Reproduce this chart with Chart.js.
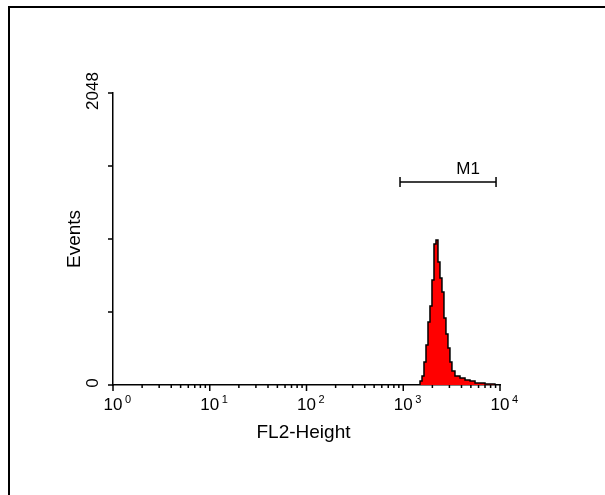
<!DOCTYPE html>
<html>
<head>
<meta charset="utf-8">
<script src="https://cdn.jsdelivr.net/npm/chart.js@4/dist/chart.umd.min.js"></script>
<style>
  html, body { margin: 0; padding: 0; background: #fff; }
  #wrap { position: relative; width: 605px; height: 495px; }
  #frame { position: absolute; left: 8px; top: 6px; right: 0; bottom: 0;
           border-left: 2px solid #000; border-top: 2px solid #000; pointer-events: none; }
</style>
</head>
<body>
<div id="wrap">
  <canvas id="histo" width="605" height="495"></canvas>
  <div id="frame"></div>
</div>
<script>
// Data (FL2-Height channel value -> events)
var fl2 = [1420, 1490, 1563, 1638, 1718, 1802, 1889, 1981, 2078, 2179, 2285, 2396, 2513, 2635,
           2763, 2898, 3039, 3187, 3424, 3860, 4350, 4900, 5520, 6210, 7000, 7890, 8870]
var events = [0, 28, 63, 161, 281, 442, 554, 736, 989, 1017, 863, 750, 652, 470,
              358, 260, 161, 98, 63, 49, 35, 28, 14, 14, 7, 7, 0]

// Axes
var xDecades = [1, 10, 100, 1000, 10000]
var xExponents = ['0', '1', '2', '3', '4']
var yTicks = [0, 512, 1024, 1536, 2048]
var yTickLabels = ['0', '', '', '', '2048']

// Marker
var m1Name = 'M1'
var m1Range = [926, 9100]
var m1Level = 1424

var points = []
for (let i = 0; i < fl2.length; i++) {
    points.push({x: fl2[i], y: events[i]})
}

var font = "'Liberation Sans', Arial, sans-serif"

var flowAxes = {
    id: 'flowAxes',
    afterDraw(chart) {
        var ctx = chart.ctx
        var x = chart.scales.x
        var y = chart.scales.y
        var y0 = y.getPixelForValue(0)
        var x0 = x.getPixelForValue(1)
        ctx.save()
        ctx.strokeStyle = '#000'
        ctx.fillStyle = '#000'
        ctx.lineWidth = 1.5

        // x ticks + labels
        ctx.beginPath()
        for (let d = 0; d < xDecades.length; d++) {
            let px = x.getPixelForValue(xDecades[d])
            ctx.moveTo(px, y0)
            ctx.lineTo(px, y0 + 6)
            if (d < xDecades.length - 1) {
                for (let m = 2; m < 10; m++) {
                    let pm = x.getPixelForValue(xDecades[d] * m)
                    ctx.moveTo(pm, y0)
                    ctx.lineTo(pm, y0 + 3)
                }
            }
        }
        // y ticks
        for (let i = 0; i < yTicks.length; i++) {
            let py = y.getPixelForValue(yTicks[i])
            ctx.moveTo(x0, py)
            ctx.lineTo(x0 - 5, py)
        }
        ctx.stroke()

        ctx.textBaseline = 'alphabetic'
        for (let d = 0; d < xDecades.length; d++) {
            let px = x.getPixelForValue(xDecades[d])
            ctx.font = '17px ' + font
            ctx.textAlign = 'center'
            ctx.fillText('10', px, y0 + 25)
            ctx.font = '11px ' + font
            ctx.textAlign = 'left'
            ctx.fillText(xExponents[d], px + 12, y0 + 18)
        }

        // y tick labels, rotated
        ctx.font = '17px ' + font
        ctx.textAlign = 'center'
        ctx.textBaseline = 'middle'
        for (let i = 0; i < yTicks.length; i++) {
            if (!yTickLabels[i]) continue
            let py = y.getPixelForValue(yTicks[i])
            ctx.save()
            ctx.translate(x0 - 20, py - 2)
            ctx.rotate(-Math.PI / 2)
            ctx.fillText(yTickLabels[i], 0, 0)
            ctx.restore()
        }

        // axis titles
        ctx.font = '19px ' + font
        ctx.textBaseline = 'alphabetic'
        ctx.fillText('FL2-Height', (x.left + x.right) / 2 - 3, y0 + 53)
        ctx.save()
        ctx.translate(x0 - 38, (y.top + y.bottom) / 2)
        ctx.rotate(-Math.PI / 2)
        ctx.textBaseline = 'middle'
        ctx.fillText('Events', 0, 0)
        ctx.restore()

        // M1 marker
        var mx1 = x.getPixelForValue(m1Range[0])
        var mx2 = x.getPixelForValue(m1Range[1])
        var my = y.getPixelForValue(m1Level)
        ctx.beginPath()
        ctx.moveTo(mx1, my)
        ctx.lineTo(mx2, my)
        ctx.moveTo(mx1, my - 5)
        ctx.lineTo(mx1, my + 5)
        ctx.moveTo(mx2, my - 5)
        ctx.lineTo(mx2, my + 5)
        ctx.stroke()
        ctx.font = '17px ' + font
        ctx.textAlign = 'center'
        ctx.fillText(m1Name, mx2 - 28, my - 8)
        ctx.restore()
    }
}

var ctx = document.getElementById('histo').getContext('2d')
var histo = new Chart(ctx, {
    type: 'line',
    data: {
        datasets: [{
            label: 'Events',
            data: points,
            stepped: true,
            fill: 'origin',
            backgroundColor: '#ff0000',
            borderColor: '#000000',
            borderWidth: 1.5,
            pointRadius: 0,
        }],
    },
    options: {
        responsive: false,
        animation: false,
        devicePixelRatio: 1,
        layout: {padding: {left: 113, right: 105, top: 93, bottom: 110}},
        plugins: {legend: {display: false}, tooltip: {enabled: false}},
        scales: {
            x: {
                type: 'logarithmic',
                min: 1,
                max: 10000,
                ticks: {display: false},
                grid: {display: false, drawTicks: false},
                border: {display: true, color: '#000', width: 1.5},
            },
            y: {
                type: 'linear',
                min: 0,
                max: 2048,
                ticks: {display: false},
                grid: {display: false, drawTicks: false},
                border: {display: true, color: '#000', width: 1.5},
            },
        },
    },
    plugins: [flowAxes],
})
</script>
</body>
</html>
